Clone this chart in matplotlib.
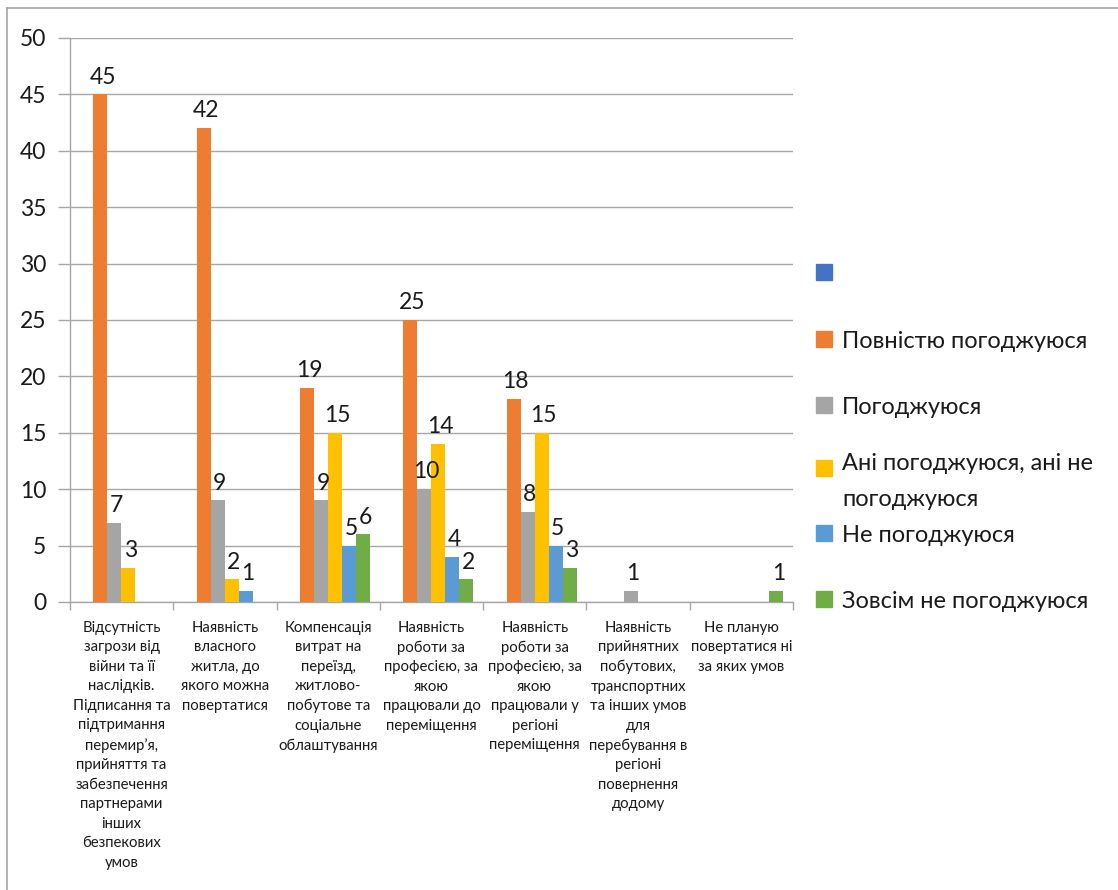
import matplotlib
matplotlib.use("Agg")
import matplotlib.pyplot as plt
from matplotlib.patches import Rectangle
from matplotlib.lines import Line2D

plt.rcParams['font.family'] = ['Lato', 'DejaVu Sans']

categories = [
    "Відсутність\nзагрози від\nвійни та її\nнаслідків.\nПідписання та\nпідтримання\nперемир’я,\nприйняття та\nзабезпечення\nпартнерами\nінших\nбезпекових\nумов",
    "Наявність\nвласного\nжитла, до\nякого можна\nповертатися",
    "Компенсація\nвитрат на\nпереїзд,\nжитлово-\nпобутове та\nсоціальне\nоблаштування",
    "Наявність\nроботи за\nпрофесією, за\nякою\nпрацювали до\nпереміщення",
    "Наявність\nроботи за\nпрофесією, за\nякою\nпрацювали у\nрегіоні\nпереміщення",
    "Наявність\nприйнятних\nпобутових,\nтранспортних\nта інших умов\nдля\nперебування в\nрегіоні\nповернення\nдодому",
    "Не планую\nповертатися ні\nза яких умов",
]

series_names = ["", "Повністю погоджуюся", "Погоджуюся",
                "Ані погоджуюся, ані не\nпогоджуюся", "Не погоджуюся",
                "Зовсім не погоджуюся"]
series_colors = ["#4472C4", "#ED7D31", "#A5A5A5", "#FFC000", "#5B9BD5", "#70AD47"]

s_blank = [None, None, None, None, None, None, None]
s_full = [45, 42, 19, 25, 18, None, None]
s_agree = [7, 9, 9, 10, 8, 1, None]
s_neutral = [3, 2, 15, 14, 15, None, None]
s_disagree = [None, 1, 5, 4, 5, None, None]
s_strong = [None, None, 6, 2, 3, None, 1]
series_values = [s_blank, s_full, s_agree, s_neutral, s_disagree, s_strong]

yticks = [0, 5, 10, 15, 20, 25, 30, 35, 40, 45, 50]

W, H = 1118, 890
fig = plt.figure(figsize=(W / 100, H / 100), dpi=100)
ax = fig.add_axes([70 / W, (H - 602) / H, (793 - 70) / W, (602 - 38) / H])

grid_c = "#A6A6A6"
txt_c = "#1a1a1a"
n = len(categories)
bw = 14 / 103.3
off = 9.5 / 103.3

for j, (vals, col) in enumerate(zip(series_values, series_colors)):
    for i, v in enumerate(vals):
        if v is None:
            continue
        x0 = i + off + j * bw
        ax.bar(x0, v, width=bw, align='edge', color=col, zorder=3)
        ax.text(x0 + bw / 2 + 0.02, v + 0.6, str(v), ha='center', va='bottom',
                fontsize=16.5, color=txt_c, zorder=4)

ax.set_xlim(0, n)
ax.set_ylim(0, 50)
ax.set_yticks(yticks)
ax.set_yticklabels([str(t) for t in yticks], fontsize=16.5, color=txt_c)
ax.tick_params(axis='y', length=8.6, color=grid_c, width=1, pad=8.6)
ax.set_xticks(range(n + 1))
ax.set_xticklabels([])
ax.tick_params(axis='x', length=5.8, color=grid_c, width=1, direction='out')
ax.yaxis.grid(True, color=grid_c, linewidth=1, zorder=0)
for s in ['top', 'right']:
    ax.spines[s].set_visible(False)
for s in ['left', 'bottom']:
    ax.spines[s].set_color(grid_c)
    ax.spines[s].set_linewidth(1)

for i, lab in enumerate(categories):
    ax.text(i + 0.5, -1.65, lab, ha='center', va='top', fontsize=10.7,
            color=txt_c, linespacing=1.5)

# legend, drawn manually
leg_y = [272, 339, 405, 468, 533, 599]
for name, col, yy in zip(series_names, series_colors, leg_y):
    fig.patches.append(Rectangle((816 / W, 1 - (yy + 8) / H), 16 / W, 16 / H,
                                 transform=fig.transFigure, color=col))
    if not name:
        continue
    if '\n' in name:
        fig.text(842 / W, 1 - (yy - 15) / H, name, ha='left', va='top',
                 fontsize=17, color=txt_c, linespacing=1.9)
    else:
        fig.text(842 / W, 1 - yy / H, name, ha='left', va='center_baseline',
                 fontsize=17, color=txt_c)

# outer frame (top and left visible)
fig.add_artist(Line2D([7 / W, 1], [1 - 8 / H, 1 - 8 / H], color="#A6A6A6", lw=1.2))
fig.add_artist(Line2D([7 / W, 7 / W], [0, 1 - 8 / H], color="#A6A6A6", lw=1.2))

fig.savefig("out.png", dpi=100)
